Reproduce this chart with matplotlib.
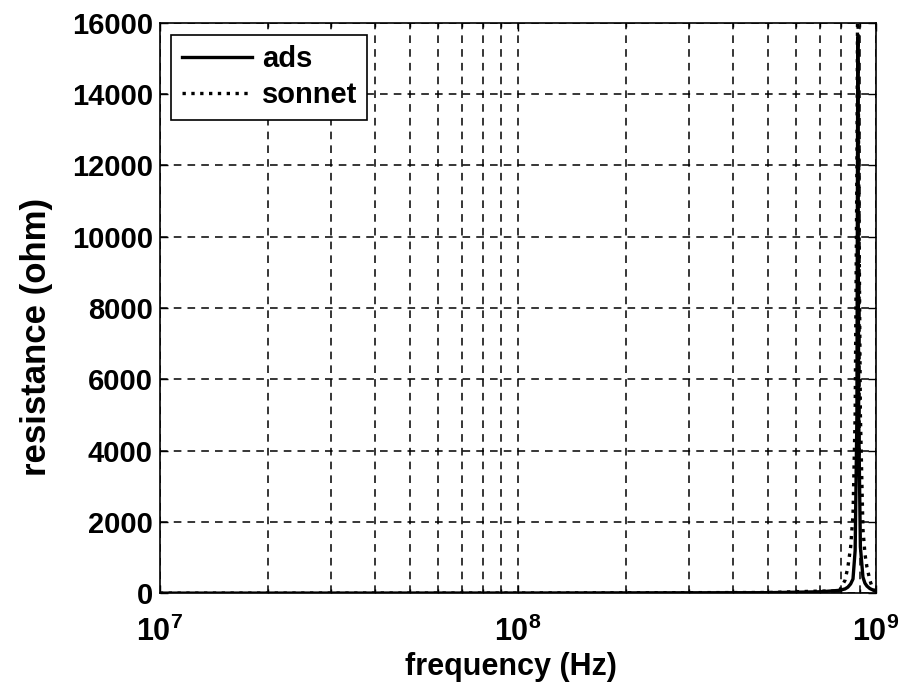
import matplotlib
matplotlib.use("Agg")
import matplotlib.pyplot as plt
from matplotlib.ticker import FixedLocator, FixedFormatter, LogLocator, NullFormatter

# ── data ────────────────────────────────────────────────────────────────────
freq = [1e7, 1e8, 5e8, 7e8, 7.9e8, 8.2e8, 8.35e8, 8.5e8, 8.63e8, 8.75e8, 8.85e8,
        8.9e8, 8.95e8, 9.05e8, 9.2e8, 9.32e8, 9.44e8, 9.62e8, 9.81e8, 1e9]
ads = [2, 5, 15, 40, 80, 120, 170, 260, 400, 1200, 5000,
       15600, 5000, 1300, 450, 280, 200, 130, 90, 60]
sonnet = [2, 5, 20, 60, 60, 365, 730, 1300, 2200, 5000, 12000,
          18000, 12000, 5000, 1800, 1100, 730, 365, 100, 60]

xticks = [1e7, 1e8, 1e9]
xticklabels = [r"$\mathbf{10^{7}}$", r"$\mathbf{10^{8}}$", r"$\mathbf{10^{9}}$"]
yticks = [0, 2000, 4000, 6000, 8000, 10000, 12000, 14000, 16000]

plt.rcParams.update({
    "font.family": "Liberation Sans",
    "font.weight": "bold",
    "mathtext.fontset": "custom",
    "mathtext.rm": "Liberation Sans",
    "mathtext.bf": "Liberation Sans:bold",
})

fig = plt.figure(figsize=(9.03, 6.93), dpi=100)
ax = fig.add_axes([0.177, 0.144, 0.793, 0.823])

ax.plot(freq, ads, "-", color="black", linewidth=2.4, label="ads")
ax.plot(freq, sonnet, ":", color="black", linewidth=2.4, label="sonnet")

ax.set_xscale("log")
ax.set_xlim(1e7, 1e9)
ax.set_ylim(0, 16000)

ax.xaxis.set_major_locator(FixedLocator(xticks))
ax.xaxis.set_major_formatter(FixedFormatter(xticklabels))
ax.xaxis.set_minor_locator(LogLocator(base=10, subs=range(2, 10)))
ax.xaxis.set_minor_formatter(NullFormatter())
ax.set_yticks(yticks)
ax.set_yticklabels([str(v) for v in yticks])

ax.grid(True, which="major", axis="both", color="black", linestyle=(0, (5, 4)), linewidth=1.1)
ax.grid(True, which="minor", axis="x", color="black", linestyle=(0, (5, 4)), linewidth=1.1)

ax.tick_params(which="both", direction="in", top=True, right=True, width=1)
ax.tick_params(axis="y", labelsize=21, pad=5)
ax.tick_params(axis="x", labelsize=22, pad=17)
ax.tick_params(which="major", length=6)
ax.tick_params(which="minor", length=3)
for s in ax.spines.values():
    s.set_linewidth(1.2)

ax.set_xlabel("frequency (Hz)", fontsize=22, fontweight="bold")
ax.set_ylabel("resistance (ohm)", fontsize=25, fontweight="bold")
ax.xaxis.set_label_coords(0.49, -0.13)
ax.xaxis.label.set_va("center")
ax.yaxis.set_label_coords(-0.172, 0.45)
ax.yaxis.label.set_va("center")

leg = ax.legend(loc="upper left", fontsize=21, handlelength=2.4, fancybox=False,
                framealpha=1, edgecolor="black", borderaxespad=0.4,
                handletextpad=0.35, borderpad=0.35, labelspacing=0.3)
leg.get_frame().set_linewidth(1.2)

fig.savefig("out.png", dpi=100)
